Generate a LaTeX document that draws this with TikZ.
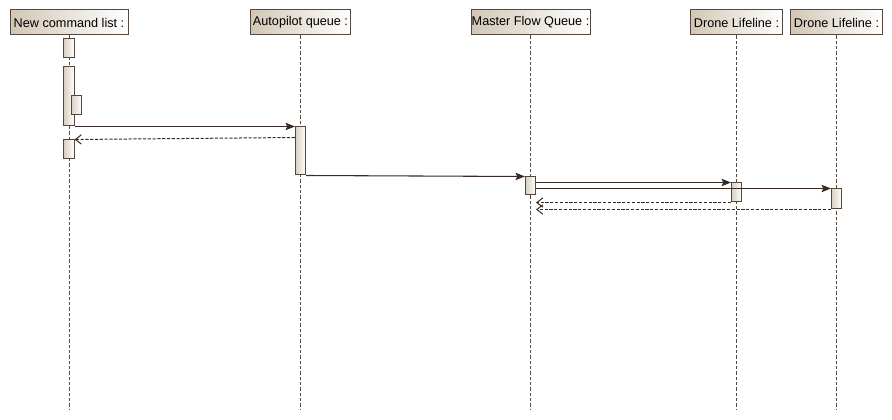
\documentclass[tikz,border=0pt]{standalone}
\usepackage{fontspec}
\setmainfont{Liberation Sans}
\usetikzlibrary{arrows.meta,calc}
\definecolor{EdgeClr}{RGB}{84,72,62}
\definecolor{LineClr}{RGB}{56,42,36}
\definecolor{TanClr}{RGB}{210,199,182}

\begin{document}
\begin{tikzpicture}[x=0.75pt,y=-0.75pt,
  hdr/.style={draw=EdgeClr,line width=0.75pt,left color=TanClr,right color=white,
    minimum height=18.75pt,inner sep=0pt,font=\fontsize{9.5}{11}\selectfont},
  act/.style={draw=EdgeClr,line width=0.75pt,left color=TanClr!85,right color=white,
    minimum width=7.6pt,minimum height=#1,inner sep=0pt},
  life/.style={draw=EdgeClr,line width=0.75pt,dash pattern=on 2.4pt off 1.6pt},
  msg/.style={draw=LineClr,line width=0.8pt,-{Stealth[length=7pt,width=5.5pt,inset=1.2pt]}},
  ret/.style={draw=LineClr,line width=0.75pt,dash pattern=on 2.4pt off 1.2pt,
    -{Straight Barb[length=4.5pt,width=7pt]}}]
\useasboundingbox (0,0) rectangle (892,420);

% lifeline heads
\node[hdr,minimum width=88.5pt] (cmd) at (69,22.5) {New command list :};
\node[hdr,minimum width=75pt] (auto) at (300.5,22.5) {Autopilot queue :};
\node[hdr,minimum width=89.25pt] (master) at (530.5,22.5) {Master Flow Queue :};
\node[hdr,minimum width=69pt] (droneA) at (736.5,22.5) {Drone Lifeline :};
\node[hdr,minimum width=69pt] (droneB) at (836.5,22.5) {Drone Lifeline :};

\foreach \n in {cmd,auto,master,droneA,droneB}
  \draw[life] (\n.south) -- (\n.south |- 0,410);

% activations
\node[act=14.25pt] (a1) at (69,48.5) {};
\node[act=44.25pt] (a2) at (69,96.5) {};
\node[act=14.25pt] (a2b) at (76.5,105.5) {};
\node[act=14.25pt] (a3) at (69,149.5) {};
\node[act=36pt] (a4) at (300.5,151) {};
\node[act=13.5pt] (a5) at (530.5,186) {};
\node[act=14.25pt] (a6) at (736.5,192.5) {};
\node[act=15pt] (a7) at (836.5,199) {};

% messages
\draw[msg] (a2.south east) -- (a4.north west);
\draw[ret] ($(a4.north west)+(0,11)$) -- (a3.north east);
\draw[msg] (a4.south east) -- (a5.north west);
\draw[msg] ($(a5.north east)+(0,6)$) -- (a6.north west);
\draw[msg] ($(a5.north east)+(0,12)$) -- (a7.north west);
\draw[ret] (a6.south west) -- (a6.south west -| a5.east);
\draw[ret] (a7.south west) -- (a7.south west -| a5.east);

\end{tikzpicture}
\end{document}
